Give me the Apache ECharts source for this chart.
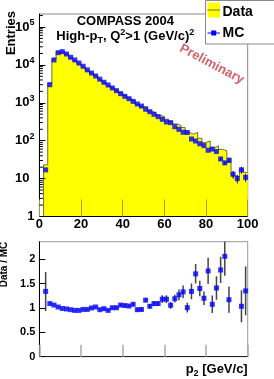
<!DOCTYPE html>
<html><head><meta charset="utf-8">
<script src="https://cdn.jsdelivr.net/npm/echarts@6/dist/echarts.min.js"></script>
<style>html,body{margin:0;padding:0;background:#fff}#c{width:274px;height:379px}</style>
</head><body><div id="c"></div>
<script>
// ---- data ----
const binCenters = [3,5,7,9,11,13,15,17,19,21,23,25,27,29,31,33,35,37,39,41,43,45,47,49,51,53,55,57,59,61,63,65,67,69,71,73,75,77,79,81,83,85,87,89,91,93,95,97,99];
const dataCounts = [23,3270,14300,21400,22100,19000,15300,12800,10600,8920,7180,6100,5200,4050,3430,2800,2470,2100,1840,1550,1330,1170,900,795,783,602,542,470,433,368,317,278,253,222,165,149,167,116,89,99,65,73,59,54,35,12,11,17.6,14.6];
const mcCounts = [17,3000,13500,21000,22300,19400,15900,13500,11200,9200,7400,6100,5100,4200,3480,2950,2460,2090,1740,1480,1280,1090,930,820,675,582,497,431,367,312,300,234,199,167,165,111,98,83,74,56,60,52,33,26,30,13,10,17,10.8];
const mcErrCenters = [87,89,91,93,95,97,99];
const mcErrors = [2.5,2.2,2.4,3,2.5,3.5,2.5];
const ratioCenters = [3,5,7,9,11,13,15,17,19,21,23,25,27,29,31,33,35,37,39,41,43,45,47,49,51,53,55,57,59,61,63,65,67,69,71,73,75,77,79,81,83,85,87,89,91,97,99];
const ratioValues = [1.34,1.09,1.06,1.02,0.99,0.98,0.965,0.95,0.95,0.97,0.97,1.0,1.02,0.965,0.985,0.95,1.005,1.005,1.06,1.05,1.04,1.075,0.965,0.97,1.16,1.035,1.09,1.09,1.18,1.18,1.055,1.19,1.27,1.33,1.006,1.34,1.70,1.40,1.20,1.76,1.075,1.41,1.78,2.06,1.17,1.035,1.35];
const ratioErrors = [0.40,0.02,0.01,0.01,0.01,0.01,0.01,0.01,0.01,0.01,0.015,0.015,0.015,0.02,0.02,0.02,0.02,0.025,0.025,0.03,0.03,0.03,0.035,0.035,0.04,0.045,0.05,0.05,0.08,0.08,0.07,0.08,0.11,0.13,0.10,0.16,0.20,0.16,0.14,0.27,0.18,0.24,0.27,0.40,0.27,0.33,0.50];
const xTickValues = [0,20,40,60,80,100];
const ratioTickLabels = ['0','0.5','1','1.5','2'];
const logMinorTicks = [2,3,4,5,6,7,8,9,20,30,40,50,60,70,80,90,200,300,400,500,600,700,800,900,2000,3000,4000,5000,6000,7000,8000,9000,20000,30000,40000,50000,60000,70000,80000,90000,200000];

// ---- chart ----
const FF = '"Liberation Sans", Arial, Helvetica, sans-serif';
const histPoints = [[binCenters[0] - 1, 1]]
  .concat(binCenters.map((c, i) => [c - 1, dataCounts[i]]))
  .concat([[binCenters[binCenters.length - 1] + 1, dataCounts[dataCounts.length - 1]]]);

const chart = echarts.init(document.getElementById('c'), null, {renderer: 'canvas'});
const G0 = {left: 39.4, top: 14, width: 208.3, height: 202.5};
const G1 = {left: 39.4, top: 241.7, width: 208.3, height: 115};

function errBar(color, lw) {
  return function (params, api) {
    const a = api.coord([api.value(0), api.value(1)]);
    const b = api.coord([api.value(0), api.value(2)]);
    return {type: 'line', shape: {x1: a[0], y1: a[1], x2: b[0], y2: b[1]}, style: {stroke: color, lineWidth: lw}};
  };
}

chart.setOption({
  animation: false,
  grid: [
    Object.assign({show: true, borderColor: '#888', borderWidth: 1, backgroundColor: 'transparent', outerBoundsMode: 'none'}, G0),
    Object.assign({show: true, borderColor: '#999', borderWidth: 1, backgroundColor: 'transparent', outerBoundsMode: 'none'}, G1)
  ],
  xAxis: [
    {type: 'value', gridIndex: 0, min: 0, max: 100, interval: 20, z: 5,
     axisLine: {show: true, onZero: false, lineStyle: {color: '#000', width: 1}},
     axisTick: {show: true, inside: true, length: 17, lineStyle: {color: '#a09a30', width: 1}},
     axisLabel: {show: true, margin: 1, fontSize: 13, fontWeight: 'bold', color: '#000', fontFamily: FF, showMinLabel: true, showMaxLabel: true},
     splitLine: {show: false}},
    {type: 'value', gridIndex: 1, min: 0, max: 100, interval: 20, z: 5,
     axisLine: {show: true, onZero: false, lineStyle: {color: '#222', width: 1}},
     axisTick: {show: true, inside: true, length: 12, lineStyle: {color: '#aaa', width: 1.5}},
     axisLabel: {show: false}, splitLine: {show: false},
     name: 'p{sub|2} [GeV/c]', nameLocation: 'end', nameGap: 0,
     nameTextStyle: {fontSize: 13, fontWeight: 'bold', color: '#000', fontFamily: FF, align: 'right', verticalAlign: 'top', padding: [5, 0, 0, 0],
       rich: {sub: {fontSize: 9, fontWeight: 'bold', fontFamily: FF, padding: [7, 0, 0, 0]}}}}
  ],
  yAxis: [
    {type: 'log', gridIndex: 0, logBase: 10, min: 1, max: 220000, splitNumber: 6, z: 5,
     axisLine: {show: true, lineStyle: {color: '#000', width: 1}},
     axisTick: {show: true, inside: true, length: 6, lineStyle: {color: '#000'}},
     axisLabel: {margin: 5, color: '#000', fontFamily: FF, fontSize: 13, fontWeight: 'bold', showMaxLabel: false,
       formatter: function (v) {
         const e = Math.round(Math.log10(v));
         if (e === 0) return '{b|1}';
         if (e === 1) return '{b|10}{sp|}';
         return '{b|10}{s|' + e + '}';
       },
       rich: {b: {fontSize: 13, fontWeight: 'bold', fontFamily: FF}, s: {fontSize: 9, fontWeight: 'bold', fontFamily: FF, padding: [0, 0, 8, 0]}, sp: {width: 5}}},
     splitLine: {show: false}},
    {type: 'value', gridIndex: 1, min: 0, max: 2.36, interval: 0.5, z: 5,
     axisLine: {show: true, lineStyle: {color: '#000', width: 1}},
     axisTick: {show: true, inside: true, length: 6, lineStyle: {color: '#000'}},
     axisLabel: {margin: 4, color: '#000', fontFamily: FF, fontSize: 11, fontWeight: 'bold', showMaxLabel: false,
       formatter: function (v) { const k = Math.round(v / 0.5); return ratioTickLabels[k] !== undefined ? ratioTickLabels[k] : ''; }},
     splitLine: {show: false}}
  ],
  series: [
    {name: 'Data', type: 'line', xAxisIndex: 0, yAxisIndex: 0, data: histPoints, step: 'end', symbol: 'none',
     lineStyle: {color: '#707030', width: 1}, areaStyle: {color: '#ffff00', opacity: 1, origin: 'start'}, z: 2, silent: true},
    {name: 'MC', type: 'scatter', xAxisIndex: 0, yAxisIndex: 0, data: binCenters.map((c, i) => [c, mcCounts[i]]),
     symbol: 'rect', symbolSize: 5, itemStyle: {color: '#0000ff'}, z: 4},
    {type: 'custom', xAxisIndex: 0, yAxisIndex: 0, z: 3, clip: true,
     data: mcErrCenters.map((c, i) => { const m = mcCounts[binCenters.indexOf(c)]; return [c, m - mcErrors[i], m + mcErrors[i]]; }),
     encode: {x: 0, y: [1, 2]}, renderItem: errBar('#000', 1)},
    {type: 'custom', xAxisIndex: 0, yAxisIndex: 0, z: 6, clip: false,
     data: logMinorTicks.map(v => [0, v]), encode: {x: 0, y: 1},
     renderItem: function (params, api) {
       const p = api.coord([api.value(0), api.value(1)]);
       return {type: 'line', shape: {x1: p[0], y1: p[1], x2: p[0] + 3.5, y2: p[1]}, style: {stroke: '#000', lineWidth: 1}};
     }},
    {type: 'custom', xAxisIndex: 1, yAxisIndex: 1, z: 3, clip: true,
     data: ratioCenters.map((c, i) => [c, ratioValues[i] - ratioErrors[i], ratioValues[i] + ratioErrors[i]]),
     encode: {x: 0, y: [1, 2]}, renderItem: errBar('#444', 1.5)},
    {name: 'Data / MC', type: 'scatter', xAxisIndex: 1, yAxisIndex: 1, data: ratioCenters.map((c, i) => [c, ratioValues[i]]),
     symbol: 'rect', symbolSize: 5, itemStyle: {color: '#0000ff'}, z: 4}
  ],
  graphic: [
    // axis titles
    {type: 'text', x: 11, y: 11, rotation: Math.PI / 2, z: 20,
     style: {text: 'Entries', fontSize: 13, fontWeight: 'bold', fontFamily: FF, fill: '#000', align: 'right', verticalAlign: 'middle', textAlign: 'right', textVerticalAlign: 'middle'}},
    {type: 'text', x: 4.5, y: 241.7, rotation: Math.PI / 2, z: 20,
     style: {text: 'Data / MC', fontSize: 10, fontWeight: 'bold', fontFamily: FF, fill: '#000', align: 'right', verticalAlign: 'middle', textAlign: 'right', textVerticalAlign: 'middle'}},
    // title lines
    {type: 'text', x: 125.3, y: 21.5, z: 20,
     style: {text: 'COMPASS 2004', fontSize: 13, fontWeight: 'bold', fontFamily: FF, fill: '#000', align: 'center', verticalAlign: 'middle', textAlign: 'center', textVerticalAlign: 'middle'}},
    {type: 'text', x: 125.3, y: 36.5, z: 20,
     style: {text: 'High-p{sub|T}, Q{sup|2}>1 (GeV/c){sup|2}', fontSize: 13, fontWeight: 'bold', fontFamily: FF, fill: '#000', align: 'center', verticalAlign: 'middle', textAlign: 'center', textVerticalAlign: 'middle',
       rich: {sub: {fontSize: 9, fontWeight: 'bold', fontFamily: FF, padding: [8, 0, 0, 0]}, sup: {fontSize: 9, fontWeight: 'bold', fontFamily: FF, padding: [0, 0, 8, 0]}}}},
    // preliminary
    {type: 'text', x: 211.7, y: 64.2, rotation: -28 * Math.PI / 180, z: 20,
     style: {text: 'Preliminary', fontSize: 13, fontWeight: 'bold', fontFamily: FF, fill: '#d0646c', align: 'center', verticalAlign: 'middle', textAlign: 'center', textVerticalAlign: 'middle'}},
    // legend
    {type: 'rect', z: 30, shape: {x: 205.5, y: 0.5, width: 80, height: 43.5}, style: {fill: '#fff', stroke: '#888', lineWidth: 1}},
    {type: 'rect', z: 31, shape: {x: 207.5, y: 2.5, width: 12.5, height: 15}, style: {fill: '#ffff00', stroke: null}},
    {type: 'line', z: 32, shape: {x1: 207.5, y1: 10, x2: 220, y2: 10}, style: {stroke: '#707030', lineWidth: 1}},
    {type: 'text', z: 32, x: 222.5, y: 12,
     style: {text: 'Data', fontSize: 14, fontWeight: 'bold', fontFamily: FF, fill: '#000', align: 'left', verticalAlign: 'middle', textAlign: 'left', textVerticalAlign: 'middle'}},
    {type: 'line', z: 32, shape: {x1: 207.5, y1: 33, x2: 220, y2: 33}, style: {stroke: '#0000ff', lineWidth: 1}},
    {type: 'rect', z: 33, shape: {x: 211.2, y: 30.5, width: 5, height: 5}, style: {fill: '#0000ff', stroke: null}},
    {type: 'text', z: 32, x: 222.5, y: 33,
     style: {text: 'MC', fontSize: 14, fontWeight: 'bold', fontFamily: FF, fill: '#000', align: 'left', verticalAlign: 'middle', textAlign: 'left', textVerticalAlign: 'middle'}}
  ]
});
</script>
</body></html>
